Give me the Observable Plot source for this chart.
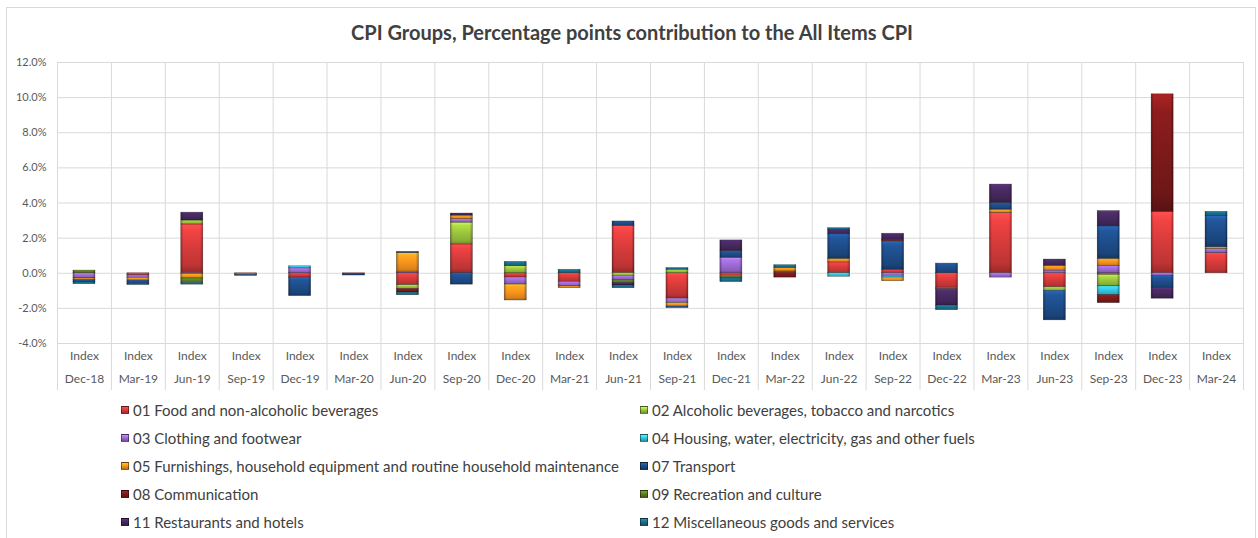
<!DOCTYPE html>
<html><head><meta charset="utf-8">
<script src="https://cdn.jsdelivr.net/npm/d3@7"></script>
<script src="https://cdn.jsdelivr.net/npm/@observablehq/plot@0.6"></script>
<style>
body{margin:0;background:#fff;}
#wrap{position:relative;width:1258px;height:538px;overflow:hidden;font-family:Lato,"Open Sans",sans-serif;}
#frame{position:absolute;left:6px;top:7px;width:1250px;height:600px;border:1px solid #d9d9d9;box-sizing:border-box;}
#title{position:absolute;left:0;width:1264px;top:20px;text-align:center;font-weight:bold;font-size:20px;color:#404040;line-height:24px;}
#chart{position:absolute;left:0;top:45px;}
.li{position:absolute;white-space:nowrap;font-size:15px;color:#404040;line-height:20px;height:20px;display:flex;align-items:center;}
.sw{width:8px;height:8px;margin-right:4px;box-sizing:border-box;border:0.5px solid rgba(0,0,0,0.45);}
</style></head>
<body><div id="wrap"><div id="frame"></div><div id="title">CPI Groups, Percentage points contribution to the All Items CPI</div><div id="chart"></div><div id="legend"></div></div>
<script>
const categories = ["Dec-18","Mar-19","Jun-19","Sep-19","Dec-19","Mar-20","Jun-20","Sep-20","Dec-20","Mar-21","Jun-21","Sep-21","Dec-21","Mar-22","Jun-22","Sep-22","Dec-22","Mar-23","Jun-23","Sep-23","Dec-23","Mar-24"];
const seriesNames = [
  "01 Food and non-alcoholic beverages",
  "02 Alcoholic beverages, tobacco and narcotics",
  "03 Clothing and footwear",
  "04 Housing, water, electricity, gas and other fuels",
  "05 Furnishings, household equipment and routine household maintenance",
  "07 Transport",
  "08 Communication",
  "09 Recreation and culture",
  "11 Restaurants and hotels",
  "12 Miscellaneous goods and services"
];
const seriesColors = ["#d63b3b","#9bc53d","#9b6bd3","#35c5e0","#f7941d","#1e4d8a","#7d1a1a","#5e7f1e","#46295e","#1a6e8a"];
const yTicks = [-4,-2,0,2,4,6,8,10,12];
const xTopLabel = "Index";

// percentage-point contributions, one array per group (same order as categories)
const food          = [0,-0.12,2.78,-0.04,-0.25,-0.03,-0.68,1.64,-0.25,-0.5,2.7,-1.45,-0.15,0.1,0.62,0.2,-0.85,3.43,-0.8,-0.1,3.49,1.15];
const alcohol       = [0,0,0.22,0,0,0,-0.22,1.24,0.4,0,-0.15,0.2,0,0,0,0,0,0,-0.2,-0.65,0,0];
const clothing      = [-0.3,-0.15,-0.05,0,0.28,-0.04,0.05,0.2,-0.4,-0.25,-0.25,-0.25,0.88,0,0,-0.15,0,-0.25,0.15,0.42,-0.15,0.23];
const housing       = [0,0,0,0,0.12,0,0,0,0,0,0,0,-0.05,0,-0.2,-0.1,0,0,0,-0.5,0,0];
const furnishings   = [-0.1,-0.15,-0.25,-0.05,0,0,1.1,0.2,-0.9,-0.1,0,-0.2,0,0.2,0.2,-0.2,-0.05,0.19,0.27,0.4,0,0.1];
const transport     = [-0.12,-0.2,0,-0.06,-1.05,-0.06,0.07,-0.65,0,0,0.25,-0.08,0.38,0,1.4,1.62,0.55,0.38,-1.68,1.85,-0.7,1.77];
const communication = [0,0,0,0,0,0,-0.2,0,0,0,0,0,0,-0.25,0,0.08,0,0,0,-0.45,6.7,0];
const recreation    = [0.15,0,-0.25,0,0,0,0,0,0,0,-0.15,0,-0.1,0,0,0,0,0,0,0,0,0];
const restaurants   = [0,0,0.45,0,0,0,0,0.12,0,0,-0.15,0,0.61,0,0.25,0.35,-0.95,1.05,0.36,0.87,-0.6,0];
const misc          = [-0.1,-0.05,-0.1,0,0,0,-0.15,0,0.25,0.2,-0.15,0.1,-0.2,0.16,0.1,0,-0.25,0,0,0,0,0.25];

const seriesValues = [food,alcohol,clothing,housing,furnishings,transport,communication,recreation,restaurants,misc];

const data = [];
categories.forEach((c, ci) => {
  seriesNames.forEach((s, si) => {
    const v = seriesValues[si][ci];
    if (v !== 0) data.push({date: c, series: s, value: v});
  });
});

const W = 1258, H = 355, mL = 57, mR = 15, mT = 17, mB = 57;
const bw = (W - mL - mR) / categories.length;
const inset = (bw - 22) / 2;

const svg = Plot.plot({
  width: W, height: H,
  marginLeft: mL, marginRight: mR, marginTop: mT, marginBottom: mB,
  style: {fontFamily: "Lato, 'Open Sans', sans-serif", background: "transparent", overflow: "visible"},
  x: {domain: categories, padding: 0, round: false, axis: null, label: null},
  y: {domain: [-4, 12], axis: null, label: null},
  color: {domain: seriesNames, range: seriesNames.map((s, i) => `url(#g${i})`)},
  marks: [
    Plot.gridY(yTicks, {stroke: "#d9d9d9", strokeOpacity: 1, strokeWidth: 1}),
    Plot.ruleX(categories, {x: d => d, dx: -bw / 2, stroke: "#d9d9d9", strokeWidth: 1, insetBottom: -47}),
    Plot.ruleX(categories.slice(-1), {x: d => d, dx: bw / 2, stroke: "#d9d9d9", strokeWidth: 1, insetBottom: -47}),
    Plot.barY(data, {x: "date", y: "value", fill: "series", stroke: "rgba(0,0,0,0.45)", strokeWidth: 0.6, insetLeft: inset, insetRight: inset}),
    Plot.barY(data, {x: "date", y: "value", fill: "url(#hs)", insetLeft: inset, insetRight: inset}),
    Plot.axisY(yTicks, {tickSize: 0, tickPadding: 11, tickFormat: d => d.toFixed(1) + "%", fill: "#595959", fontSize: 11, label: null}),
    Plot.axisX({tickSize: 0, tickPadding: 8, tickFormat: () => xTopLabel, fill: "#595959", fontSize: 12, label: null}),
    Plot.axisX({tickSize: 0, tickPadding: 31, tickFormat: d => d, fill: "#595959", fontSize: 12, label: null})
  ]
});

const defs = d3.select(svg).insert("defs", ":first-child");
seriesColors.forEach((c, i) => {
  const g = defs.append("linearGradient").attr("id", "g" + i).attr("x1", 0).attr("y1", 0).attr("x2", 0).attr("y2", 1);
  const base = d3.color(c);
  const stops = [[0, base.brighter(0.9)], [0.15, base.brighter(0.35)], [0.5, base], [0.85, base.darker(0.35)], [1, base.darker(1)]];
  stops.forEach(([o, col]) => g.append("stop").attr("offset", o).attr("stop-color", col.formatHex()));
});
const hs = defs.append("linearGradient").attr("id", "hs").attr("x1", 0).attr("y1", 0).attr("x2", 1).attr("y2", 0);
[[0, 0.3], [0.12, 0], [0.88, 0], [1, 0.3]].forEach(([o, a]) => hs.append("stop").attr("offset", o).attr("stop-color", "#000").attr("stop-opacity", a));

document.getElementById("chart").appendChild(svg);

const legend = document.getElementById("legend");
seriesNames.forEach((s, i) => {
  const row = Math.floor(i / 2), col = i % 2;
  const item = document.createElement("div");
  item.className = "li";
  item.style.left = (col === 0 ? 121 : 640) + "px";
  item.style.top = (400 + row * 28) + "px";
  const sw = document.createElement("span");
  sw.className = "sw";
  const base = d3.color(seriesColors[i]);
  sw.style.background = `linear-gradient(${base.brighter(0.8).formatHex()}, ${base.formatHex()} 50%, ${base.darker(0.8).formatHex()})`;
  item.appendChild(sw);
  const t = document.createElement("span");
  t.textContent = s;
  item.appendChild(t);
  legend.appendChild(item);
});
</script></body></html>
